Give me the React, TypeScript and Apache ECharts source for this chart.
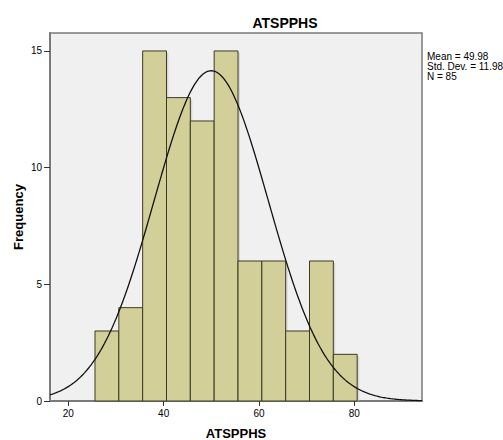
import React, { useEffect, useRef } from "react";
import * as echarts from "echarts";

const binStart = 25.6;
const binWidth = 5;
const counts = [3, 4, 15, 13, 12, 15, 6, 6, 3, 6, 2];
const xTicks = [20, 40, 60, 80];
const yTicks = [0, 5, 10, 15];
const mean = 49.98;
const sd = 11.98;
const n = 85;
const statLines = ["Mean = 49.98", "Std. Dev. = 11.98", "N = 85"];
const xMin = 16.16;
const xMax = 94.2;
const yMax = 15.77;

export default function App() {
  const ref = useRef<HTMLDivElement>(null);
  useEffect(() => {
    if (!ref.current) return;
    const chart = echarts.init(ref.current, null, { renderer: "svg" });
    const bars = counts.map((c, i) => [binStart + i * binWidth, binStart + (i + 1) * binWidth, c]);
    const curve: number[][] = [];
    const steps = 300;
    for (let i = 0; i <= steps; i++) {
      const x = xMin + ((xMax - xMin) * i) / steps;
      const y = (n * binWidth) / (sd * Math.sqrt(2 * Math.PI)) * Math.exp(-((x - mean) ** 2) / (2 * sd * sd));
      curve.push([x, y]);
    }
    const font = "'Liberation Sans', Arial, sans-serif";
    chart.setOption({
      animation: false,
      backgroundColor: "#ffffff",
      title: {
        text: "ATSPPHS",
        left: 280,
        top: 11,
        textAlign: "center",
        textStyle: { fontFamily: font, fontSize: 14, fontWeight: "bold", color: "#000" },
      },
      grid: {
        left: 50,
        right: 81,
        top: 33,
        bottom: 39,
        outerBoundsMode: "none",
        containLabel: false,
        show: true,
        backgroundColor: "#f0f0f0",
        borderColor: "#7a7a7a",
        borderWidth: 1.5,
      },
      xAxis: {
        type: "value",
        min: xMin,
        max: xMax,
        name: "ATSPPHS",
        nameLocation: "middle",
        nameGap: 26,
        nameMoveOverlap: false,
        nameTextStyle: { fontFamily: font, fontSize: 13, fontWeight: "bold", color: "#000" },
        splitLine: { show: false },
        axisLine: { show: true, lineStyle: { color: "#7a7a7a", width: 2 } },
        axisTick: { show: true, customValues: xTicks, length: 5, lineStyle: { color: "#333", width: 1 } },
        axisLabel: { customValues: xTicks, fontFamily: font, fontSize: 10, color: "#000", margin: 7 },
      },
      yAxis: {
        type: "value",
        min: 0,
        max: yMax,
        name: "Frequency",
        nameLocation: "middle",
        nameGap: 25,
        nameMoveOverlap: false,
        nameTextStyle: { fontFamily: font, fontSize: 13, fontWeight: "bold", color: "#000" },
        splitLine: { show: false },
        axisLine: { show: true, lineStyle: { color: "#7a7a7a", width: 2 } },
        axisTick: { show: true, customValues: yTicks, length: 6, lineStyle: { color: "#333", width: 1 } },
        axisLabel: { customValues: yTicks, fontFamily: font, fontSize: 10, color: "#000", margin: 8 },
      },
      series: [
        {
          type: "custom",
          data: bars,
          encode: { x: [0, 1], y: 2 },
          renderItem: (params: any, api: any) => {
            const p0 = api.coord([api.value(0), api.value(2)]);
            const p1 = api.coord([api.value(1), 0]);
            return {
              type: "group",
              children: [
                {
                  type: "rect",
                  shape: { x: p0[0] + 2, y: p0[1] + 2, width: p1[0] - p0[0], height: p1[1] - p0[1] - 2 },
                  style: { fill: "#c8c8c0", opacity: 0.6 },
                },
                {
                  type: "rect",
                  shape: { x: p0[0], y: p0[1], width: p1[0] - p0[0], height: p1[1] - p0[1] },
                  style: { fill: "#d3cf98", stroke: "#3a3a28", lineWidth: 1 },
                },
              ],
            };
          },
          z: 2,
        },
        {
          type: "line",
          data: curve,
          showSymbol: false,
          symbol: "none",
          lineStyle: { color: "#111", width: 1.3 },
          z: 3,
        },
      ],
      graphic: statLines.map((t, i) => ({
        type: "text",
        left: 427,
        top: 51 + i * 10.3,
        style: { text: t, fontFamily: font, fontSize: 10, fill: "#000" },
      })),
    });
    return () => chart.dispose();
  }, []);
  return <div ref={ref} style={{ width: 503, height: 440, position: "fixed", left: 0, top: 0 }} />;
}
